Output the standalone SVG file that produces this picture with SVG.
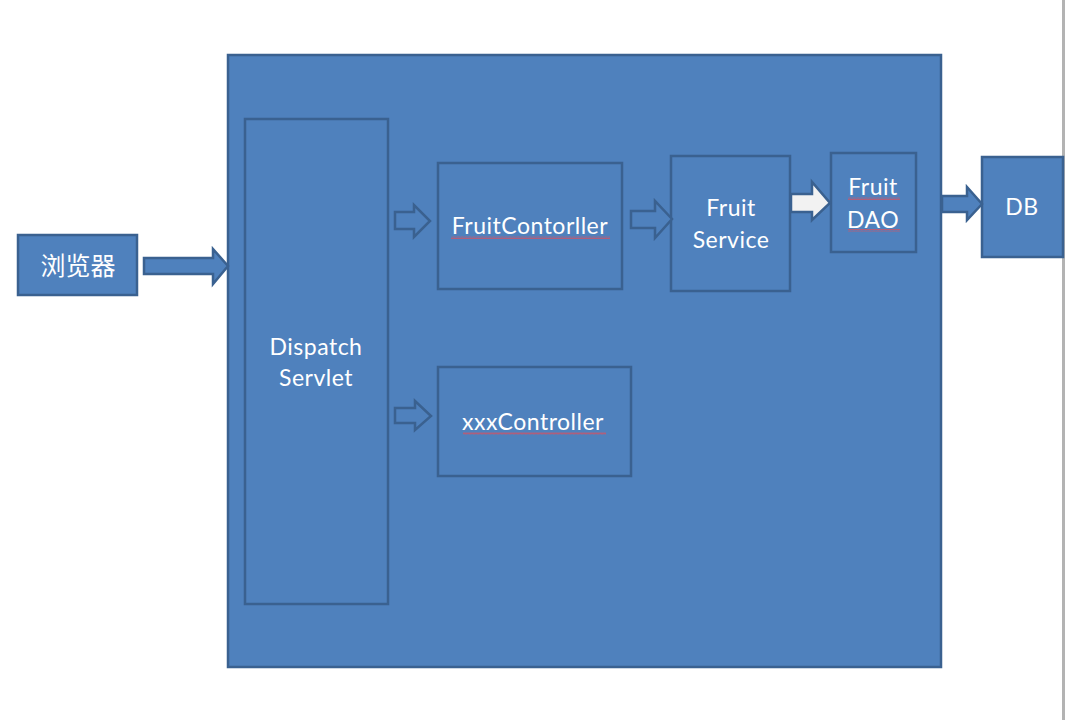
<svg xmlns="http://www.w3.org/2000/svg" width="1065" height="720" viewBox="0 0 1065 720">
<defs>
<style>
.box{fill:#4f81bd;stroke:#3a6190;stroke-width:2.5}
.arr{fill:#4f81bd;stroke:#3a6190;stroke-width:2.5;stroke-linejoin:miter}
.arrw{fill:#f2f2f2;stroke:#3a6190;stroke-width:2.5}
.t{font-family:Lato,"Open Sans","Noto Sans",sans-serif;font-size:23px;letter-spacing:0.5px;fill:#ffffff;text-anchor:middle}
.cjk{font-family:"Noto Sans CJK SC",sans-serif;font-size:25px;fill:#ffffff;text-anchor:middle}
.sq{fill:none;stroke:#d85060;stroke-width:0.7}
</style>
<pattern id="wave" x="0" y="0" width="4" height="3" patternUnits="userSpaceOnUse">
<path d="M0,2.5 L1,0.5 L2,2.5 L3,0.5 L4,2.5" class="sq"/>
</pattern>
</defs>
<rect x="0" y="0" width="1065" height="720" fill="#ffffff"/>
<rect x="1062" y="0" width="3" height="720" fill="#b3b3b3"/>

<g id="container"><rect class="box" x="228" y="55" width="713" height="612"/></g>

<g id="browser">
<rect class="box" x="18" y="235" width="119" height="60"/>
<text class="cjk" x="78" y="275">浏览器</text>
</g>

<g id="dispatch">
<rect class="box" x="245" y="119" width="143" height="485"/>
<text class="t" x="316" y="355">Dispatch</text>
<text class="t" x="316" y="386">Servlet</text>
</g>

<g id="fruitcontroller">
<rect class="box" x="438" y="163" width="184" height="126"/>
<text class="t" x="530" y="234">FruitContorller</text>
<rect x="451" y="236" width="159" height="3" fill="url(#wave)"/>
</g>

<g id="xxxcontroller">
<rect class="box" x="438" y="367" width="193" height="109"/>
<text class="t" x="533" y="430">xxxController</text>
<rect x="463" y="432" width="143" height="3" fill="url(#wave)"/>
</g>

<g id="fruitservice">
<rect class="box" x="671" y="156" width="119" height="135"/>
<text class="t" x="731" y="216">Fruit</text>
<text class="t" x="731" y="248">Service</text>
</g>

<g id="fruitdao">
<rect class="box" x="831" y="153" width="85" height="99"/>
<text class="t" x="873" y="195">Fruit</text>
<text class="t" x="873" y="228">DAO</text>
<rect x="848" y="197" width="52" height="3" fill="url(#wave)"/>
<rect x="848" y="229" width="52" height="3" fill="url(#wave)"/>
</g>

<g id="db">
<rect class="box" x="982" y="157" width="81" height="100"/>
<text class="t" x="1022" y="215">DB</text>
</g>

<g id="connectors">
<path class="arr" d="M144,258 L213,258 L213,249 L228,266 L213,284 L213,274 L144,274 Z"/>
<path class="arr" d="M395,212 L414,212 L414,205 L430,221 L414,237 L414,229 L395,229 Z"/>
<path class="arr" d="M631,211 L655,211 L655,201 L672,219 L655,238 L655,228 L631,228 Z"/>
<path class="arrw" d="M791,194 L812,194 L812,182 L830,203 L812,220 L812,212 L791,212 Z"/>
<path class="arr" d="M942,196 L967,196 L967,187 L982,204 L967,220 L967,212 L942,212 Z"/>
<path class="arr" d="M395,408 L415,408 L415,401 L431,416 L415,430 L415,423 L395,423 Z"/>
</g>
</svg>
